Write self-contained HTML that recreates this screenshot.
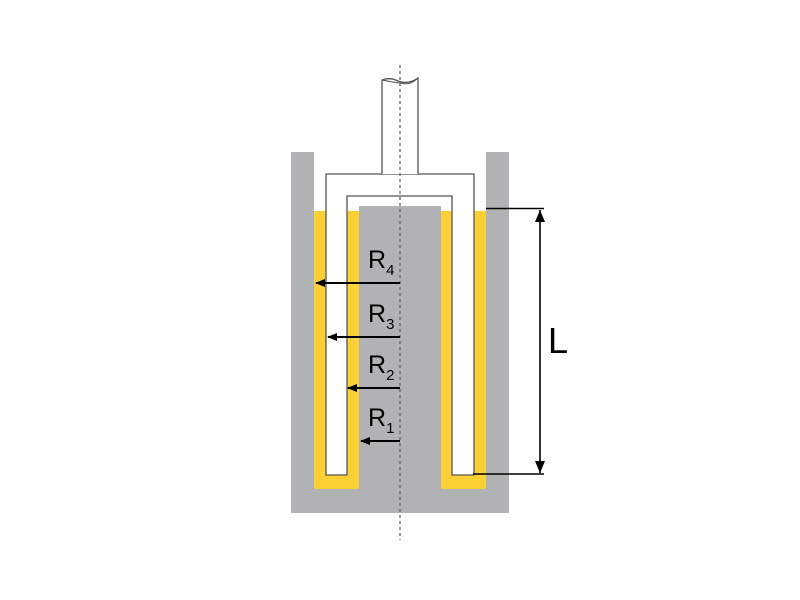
<!DOCTYPE html>
<html><head><style>html,body{margin:0;padding:0;background:#fff;}svg{display:block}</style></head>
<body>
<svg width="800" height="600" viewBox="0 0 800 600" xmlns="http://www.w3.org/2000/svg" font-family="Liberation Sans, sans-serif">
<defs>
<marker id="a" markerWidth="10" markerHeight="8" refX="9" refY="4" orient="auto" markerUnits="userSpaceOnUse"><path d="M0,0 L10,4 L0,8 Z" fill="#000"/></marker>
</defs>
<!-- cup -->
<path d="M291,152 H314 V489 H359 V206 H441 V489 H486 V152 H509 V513 H291 Z" fill="#b1b2b4"/>
<!-- liquid -->
<rect x="314" y="211" width="45" height="278" fill="#fbd035"/>
<rect x="441" y="211" width="45" height="278" fill="#fbd035"/>
<!-- bob -->
<path d="M326,475 V174 H474 V475 H452 V196 H347 V475 Z" fill="#fff" stroke="#555" stroke-width="1.3"/>
<!-- shaft -->
<path d="M382,174 V80 Q390,77 398,81 Q408,85 418,78 V174" fill="#fff" stroke="#555" stroke-width="1.3"/>
<path d="M382,80 Q392,82 400,83 Q410,86 418,78" fill="none" stroke="#555" stroke-width="1"/>
<!-- centerline -->
<line x1="400" y1="65" x2="400" y2="540" stroke="#666" stroke-width="1.3" stroke-dasharray="3,3"/>
<!-- radius arrows -->
<g stroke="#000" stroke-width="2" marker-end="url(#a)">
<line x1="400" y1="283" x2="316" y2="283"/>
<line x1="400" y1="337" x2="328" y2="337"/>
<line x1="400" y1="388" x2="348" y2="388"/>
<line x1="400" y1="441" x2="361" y2="441"/>
</g>
<g font-size="25" fill="#000">
<text x="368" y="268">R<tspan font-size="15" dy="7">4</tspan></text>
<text x="368" y="322">R<tspan font-size="15" dy="7">3</tspan></text>
<text x="368" y="373">R<tspan font-size="15" dy="7">2</tspan></text>
<text x="368" y="426">R<tspan font-size="15" dy="7">1</tspan></text>
</g>
<!-- L dimension -->
<g stroke="#000" stroke-width="1.6">
<line x1="486" y1="208.5" x2="544" y2="208.5"/>
<line x1="473" y1="474" x2="544" y2="474"/>
<line x1="540" y1="210" x2="540" y2="473"/>
</g>
<path d="M540,210 L535,222 L545,222 Z" fill="#000"/>
<path d="M540,473 L535,461 L545,461 Z" fill="#000"/>
<text x="548" y="353" font-size="36" fill="#000">L</text>
</svg>
</body></html>
